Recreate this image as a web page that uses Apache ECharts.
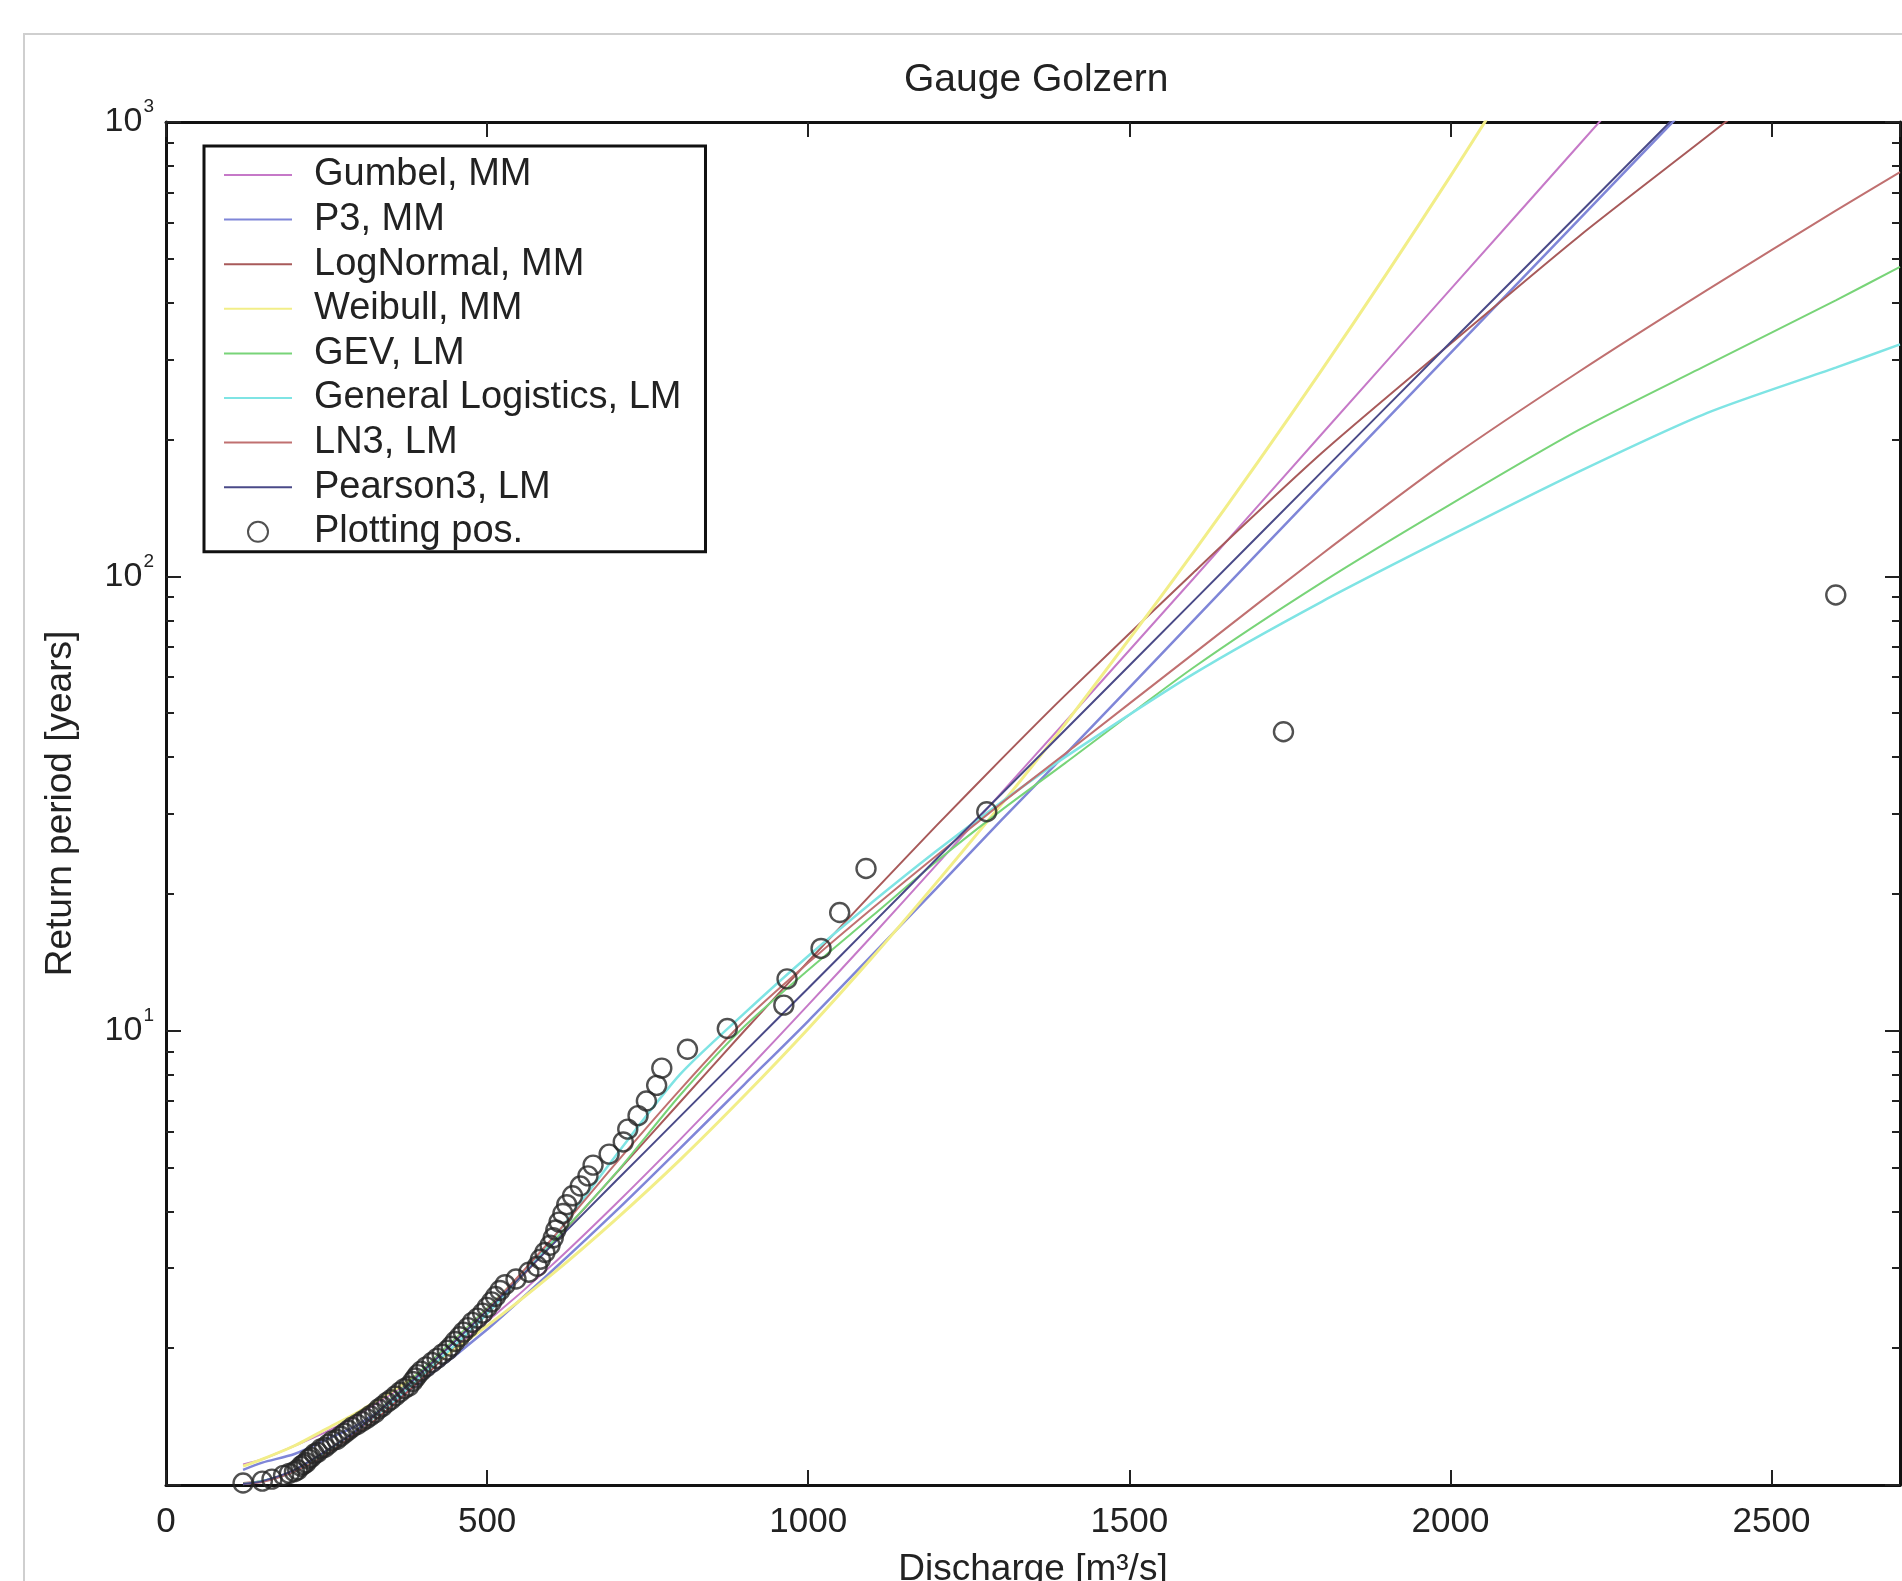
<!DOCTYPE html>
<html>
<head>
<meta charset="utf-8">
<script src="https://cdn.jsdelivr.net/npm/echarts@6/dist/echarts.min.js"></script>
<style>
html,body{margin:0;padding:0;background:#fff;}
#chart{width:1902px;height:1581px;}
</style>
</head>
<body>
<div id="chart"></div>
<script>
// ---- data ----
const xTicks = [0, 500, 1000, 1500, 2000, 2500];
const yMajorTicks = [1, 10, 100, 1000];
const yMinorTicks = [2,3,4,5,6,7,8,9,20,30,40,50,60,70,80,90,200,300,400,500,600,700,800,900];

// discharge grid of the fitted curves
const curveX = [120,150,200,250,300,400,500,600,700,800,900,1000,1100,1200,1300,1400,1600,1800,2000,2200,2400,2600,2700];
const gumbelT   = [1.11,1.14,1.22,1.31,1.43,1.77,2.29,3.04,4.15,5.75,8.06,11.4,16.2,23.2,33.3,47.8,98.9,206,428,890,1850];
const p3mmT     = [1.08,1.12,1.17,1.26,1.36,1.70,2.20,2.95,4.00,5.50,7.60,10.5,14.7,20.6,29.0,40.5,80,158,310,610,1200];
const lognormT  = [1.01,1.02,1.07,1.17,1.30,1.72,2.38,3.38,4.84,6.95,9.97,14.2,20.1,28.3,39.5,54.7,102,187,325,560,930,1550];
const weibullT  = [1.10,1.14,1.22,1.33,1.45,1.78,2.24,2.90,3.84,5.19,7.18,10.1,14.5,21.2,31.4,47.3,113,285,760,2140];
const gevT      = [1.005,1.02,1.07,1.18,1.33,1.80,2.45,3.40,4.85,7.2,10.2,13.6,17.9,23.6,30.5,38.8,63,97,144,210,292,405,480];
const glT       = [1.005,1.02,1.07,1.17,1.32,1.75,2.38,3.45,5.3,8.0,10.9,14.6,19.2,24.9,31.8,40,61,88,123,170,229,288,324];
const ln3T      = [1.005,1.015,1.07,1.17,1.32,1.78,2.43,3.47,5.1,7.4,10.5,14.1,18.6,24.3,31.6,40.7,67.6,112,182,282,427,638,776];
const pe3lmT    = [1.005,1.02,1.08,1.19,1.33,1.78,2.42,3.36,4.66,6.46,8.96,12.4,17.2,23.9,33.1,45.9,88.3,170,327,628,1210];

// plotting positions (discharge, return period)
const obsQ = [120,150,165,183,192,200,205,210,214,218,
              222,226,231,236,241,247,253,259,266,272,
              278,284,290,298,305,312,318,325,331,337,
              344,350,357,364,371,378,384,388,392,397,
              405,414,422,430,438,444,450,457,463,470,
              477,485,493,500,507,513,520,528,545,565,
              578,583,590,598,603,607,612,618,624,633,
              645,657,665,690,712,719,735,748,764,772,
              812,874,962,967,1020,1049,1090,1278,1740,2600];
const obsT = [1.01,1.02,1.03,1.05,1.06,1.07,1.08,1.1,1.11,1.12,
              1.14,1.15,1.17,1.18,1.2,1.21,1.23,1.25,1.26,1.28,
              1.3,1.32,1.34,1.36,1.38,1.4,1.42,1.44,1.47,1.49,
              1.52,1.54,1.57,1.6,1.63,1.65,1.69,1.72,1.75,1.78,
              1.82,1.86,1.9,1.94,1.98,2.02,2.07,2.12,2.17,2.22,
              2.28,2.33,2.39,2.46,2.53,2.6,2.68,2.76,2.84,2.94,
              3.03,3.14,3.25,3.37,3.5,3.64,3.79,3.96,4.14,4.33,
              4.55,4.79,5.06,5.35,5.69,6.07,6.5,7,7.58,8.27,
              9.1,10.11,11.38,13,15.17,18.2,22.75,30.33,45.5,91];

const curves = [
  {name: 'Gumbel, MM',              t: gumbelT,  color: '#c679c8', width: 2},
  {name: 'P3, MM',                  t: p3mmT,    color: '#7f86d8', width: 2.5},
  {name: 'LogNormal, MM',           t: lognormT, color: '#a85a5a', width: 2},
  {name: 'Weibull, MM',             t: weibullT, color: '#f2ee88', width: 3},
  {name: 'GEV, LM',                 t: gevT,     color: '#78d478', width: 2},
  {name: 'General Logistics, LM',   t: glT,      color: '#7fe4e4', width: 2.5},
  {name: 'LN3, LM',                 t: ln3T,     color: '#c07070', width: 2},
  {name: 'Pearson3, LM',            t: pe3lmT,   color: '#4a4a88', width: 2}
];

// ---- chart ----
const FONT = 'Liberation Sans';
const chart = echarts.init(document.getElementById('chart'), null, {renderer: 'canvas'});

const series = curves.map(c => ({
  type: 'line',
  name: c.name,
  data: c.t.map((v, i) => [curveX[i], v]),
  showSymbol: false,
  symbol: 'none',
  smooth: 0.25,
  clip: true,
  lineStyle: {color: c.color, width: c.width},
  itemStyle: {color: c.color},
  z: 3
}));
series.push({
  type: 'scatter',
  name: 'Plotting pos.',
  data: obsQ.map((q, i) => [q, obsT[i]]),
  symbol: 'circle',
  symbolSize: 19,
  itemStyle: {color: 'rgba(0,0,0,0)', borderColor: '#262626', borderWidth: 2.4},
  z: 4
});

const supLabel = v => {
  const e = Math.round(Math.log10(v));
  return '{b|10}{e|' + e + '}';
};

const yBase = {
  type: 'log', logBase: 10, min: 1, max: 1000, gridIndex: 0,
  splitLine: {show: false}
};

const legendData = curves.map(c => ({name: c.name, itemStyle: {opacity: 0}}))
  .concat([{name: 'Plotting pos.'}]);

chart.setOption({
  animation: false,
  backgroundColor: '#fff',
  title: {
    text: 'Gauge Golzern',
    left: 899, top: 56,
    textStyle: {fontFamily: FONT, fontSize: 39, fontWeight: 'normal', color: '#222'}
  },
  grid: {left: 166, right: 2, top: 122, bottom: 96, containLabel: false, outerBoundsMode: 'none'},
  legend: {
    orient: 'vertical',
    left: 204, top: 146,
    padding: [9, 24, 0, 19],
    itemWidth: 68, itemHeight: 20, itemGap: 4.6,
    borderColor: '#111', borderWidth: 3,
    backgroundColor: '#fff',
    textStyle: {fontFamily: FONT, fontSize: 38, color: '#222', lineHeight: 40, padding: [0, 0, 0, 17]},
    data: legendData
  },
  xAxis: [
    {
      type: 'value', min: 0, max: 2700, interval: 500, position: 'bottom',
      name: 'Discharge [m³/s]', nameLocation: 'middle', nameGap: 66,
      nameTextStyle: {fontFamily: FONT, fontSize: 37, color: '#222'},
      axisLine: {show: true, lineStyle: {color: '#111', width: 3}},
      axisTick: {show: true, inside: true, length: 15, lineStyle: {color: '#222', width: 2}},
      axisLabel: {show: true, margin: 20, showMaxLabel: false, fontFamily: FONT, fontSize: 35, color: '#222',
                  formatter: v => String(v)},
      splitLine: {show: false}
    },
    {
      type: 'value', min: 0, max: 2700, interval: 500, position: 'top',
      axisLine: {show: true, lineStyle: {color: '#111', width: 3}},
      axisTick: {show: true, inside: true, length: 15, lineStyle: {color: '#222', width: 2}},
      axisLabel: {show: false},
      splitLine: {show: false}
    }
  ],
  yAxis: [
    Object.assign({}, yBase, {
      position: 'left',
      name: 'Return period [years]', nameLocation: 'middle', nameGap: 87, nameRotate: 90,
      nameTextStyle: {fontFamily: FONT, fontSize: 37, color: '#222'},
      axisLine: {show: true, lineStyle: {color: '#111', width: 3}},
      axisTick: {show: true, inside: true, length: 15, customValues: yMajorTicks, lineStyle: {color: '#222', width: 2}},
      axisLabel: {
        show: true, margin: 12, customValues: yMajorTicks.slice(1),
        formatter: supLabel,
        rich: {
          b: {fontFamily: FONT, fontSize: 34, color: '#222'},
          e: {fontFamily: FONT, fontSize: 19, color: '#222', padding: [0, 0, 30, 1]}
        }
      }
    }),
    Object.assign({}, yBase, {
      position: 'left',
      axisLine: {show: false},
      axisTick: {show: true, inside: true, length: 8, customValues: yMinorTicks, lineStyle: {color: '#222', width: 2}},
      axisLabel: {show: false}
    }),
    Object.assign({}, yBase, {
      position: 'right',
      axisLine: {show: true, lineStyle: {color: '#111', width: 3}},
      axisTick: {show: true, inside: true, length: 15, customValues: yMajorTicks, lineStyle: {color: '#222', width: 2}},
      axisLabel: {show: false}
    }),
    Object.assign({}, yBase, {
      position: 'right',
      axisLine: {show: false},
      axisTick: {show: true, inside: true, length: 8, customValues: yMinorTicks, lineStyle: {color: '#222', width: 2}},
      axisLabel: {show: false}
    })
  ],
  graphic: [{
    type: 'rect', z: -10, silent: true,
    shape: {x: 24, y: 34, width: 3000, height: 3000},
    style: {fill: 'none', stroke: '#cfcfcf', lineWidth: 2}
  }],
  series: series
});
</script>
</body>
</html>
